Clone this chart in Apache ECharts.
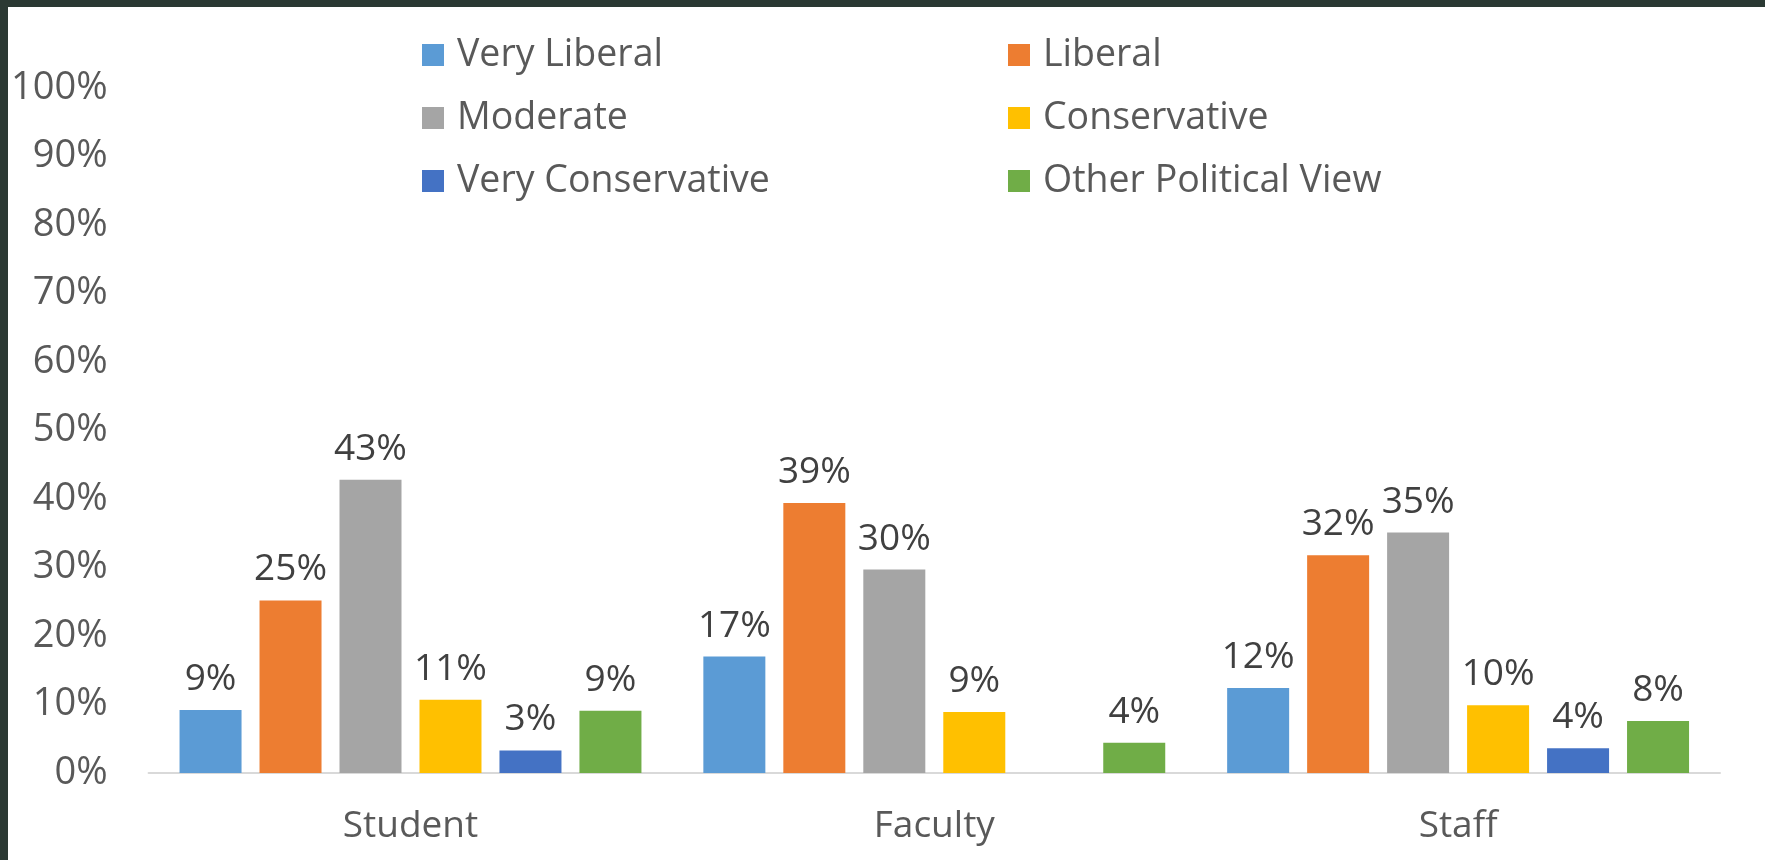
<!DOCTYPE html>
<html>
<head>
<meta charset="utf-8">
<script src="https://cdn.jsdelivr.net/npm/echarts@6/dist/echarts.min.js"></script>
<style>
  html, body { margin: 0; padding: 0; background: #2b3933; width: 1765px; height: 860px; overflow: hidden; }
  .chart { position: absolute; left: 8px; top: 7px; width: 1757px; height: 853px; background: #ffffff; }
</style>
</head>
<body>
<div class="chart"></div>
<script>
var groups = ['Student', 'Faculty', 'Staff'];
var veryLiberal = [9.2, 17.0, 12.4];
var liberal = [25.2, 39.4, 31.8];
var moderate = [42.8, 29.7, 35.1];
var conservative = [10.7, 8.9, 9.9];
var veryConservative = [3.3, null, 3.6];
var otherView = [9.1, 4.4, 7.6];
var yTicks = [0, 10, 20, 30, 40, 50, 60, 70, 80, 90, 100];

(function(){
	var myChart = echarts.init(document.querySelector('.chart'));
	var font = '"Open Sans", "Noto Sans", sans-serif';

	function makeBar(name, color, data) {
		return {
			name: name,
			type: 'bar',
			barWidth: 62,
			barGap: '29%',
			itemStyle: { color: color },
			label: {
				show: true,
				position: 'top',
				distance: 12,
				color: '#404040',
				fontSize: 37,
				fontFamily: font,
				formatter: function (p) {
					return Math.round(p.value) + '%';
				}
			},
			data: data
		};
	}

	var legendText = {
		color: '#595959',
		fontSize: 37.5,
		fontFamily: font,
		lineHeight: 36,
		padding: [0, 0, 0, 8]
	};

	var option = {
		animation: false,
		legend: [
			{
				orient: 'vertical',
				left: 409,
				top: 24,
				icon: 'rect',
				itemWidth: 22,
				itemHeight: 22,
				itemGap: 25,
				textStyle: legendText,
				data: ['Very Liberal', 'Moderate', 'Very Conservative']
			},
			{
				orient: 'vertical',
				left: 995,
				top: 24,
				icon: 'rect',
				itemWidth: 22,
				itemHeight: 22,
				itemGap: 25,
				textStyle: legendText,
				data: ['Liberal', 'Conservative', 'Other Political View']
			}
		],
		grid: {
			left: 140,
			right: 45,
			top: 81,
			bottom: 87
		},
		xAxis: {
			type: 'category',
			data: groups,
			axisLine: { show: true, lineStyle: { color: '#d9d9d9', width: 2 } },
			axisTick: { show: false },
			axisLabel: { color: '#595959', fontSize: 37, fontFamily: font, margin: 35 }
		},
		yAxis: {
			type: 'value',
			min: yTicks[0],
			max: yTicks[yTicks.length - 1],
			interval: 10,
			axisLine: { show: false },
			axisTick: { show: false },
			splitLine: { show: false },
			axisLabel: { color: '#595959', fontSize: 38, fontFamily: font, margin: 41, formatter: '{value}%' }
		},
		series: [
			makeBar('Very Liberal', '#5b9bd5', veryLiberal),
			makeBar('Liberal', '#ed7d31', liberal),
			makeBar('Moderate', '#a5a5a5', moderate),
			makeBar('Conservative', '#ffc000', conservative),
			makeBar('Very Conservative', '#4472c4', veryConservative),
			makeBar('Other Political View', '#70ad47', otherView)
		]
	};
	myChart.setOption(option);
	window.addEventListener("resize", function() {
		myChart.resize();
	});
})();
</script>
</body>
</html>
